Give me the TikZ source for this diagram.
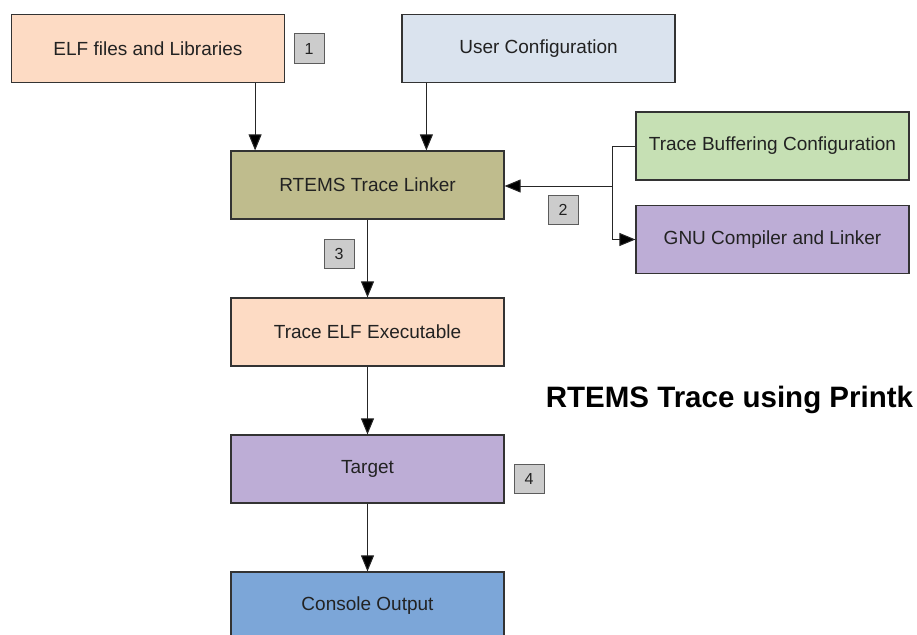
\documentclass[tikz,border=0pt]{standalone}
\usepackage{fontspec}
\setmainfont{Liberation Sans}
\usetikzlibrary{arrows.meta,calc}
\definecolor{peach}{HTML}{FDDBC4}
\definecolor{paleblue}{HTML}{DAE3EE}
\definecolor{olive}{HTML}{BFBC8D}
\definecolor{palegreen}{HTML}{C6E0B4}
\definecolor{lilac}{HTML}{BDADD6}
\definecolor{midblue}{HTML}{7CA6D8}
\definecolor{badgegray}{HTML}{CCCCCC}
\definecolor{edge}{HTML}{333333}
\definecolor{txt}{HTML}{222222}
\begin{document}
\begin{tikzpicture}[x=1pt,y=-1pt,
  box/.style={draw=edge,line width=1.2pt,minimum width=273pt,minimum height=68pt,inner sep=0pt,
    font=\fontsize{19}{22}\selectfont,text=txt},
  badge/.style={draw=edge!80,line width=1pt,fill=badgegray,minimum width=30pt,minimum height=29pt,inner sep=0pt,
    font=\fontsize{16}{19}\selectfont,text=txt},
  arr/.style={draw=black!85,line width=1pt,-{Triangle[length=16pt,width=13pt,fill=black]}},
  ln/.style={draw=black!85,line width=1pt}]
\useasboundingbox (0,0) rectangle (917,634);
\node[box,fill=peach] (elf) at (148,48.5) {ELF files and Libraries};
\node[box,fill=paleblue] (uc) at (538.5,48.5) {User Configuration};
\node[box,fill=olive] (lnk) at (367.5,185) {RTEMS Trace Linker};
\node[box,fill=palegreen] (tb) at (772.5,146) {Trace Buffering Configuration};
\node[box,fill=lilac] (gnu) at (772.5,239.5) {GNU Compiler and Linker};
\node[box,fill=peach] (te) at (367.5,332) {Trace ELF Executable};
\node[box,fill=lilac] (tg) at (367.5,469) {Target};
\node[box,fill=midblue] (co) at (367.5,606) {Console Output};
\node[badge] (b1) at (309,48.5) {1};
\node[badge] (b2) at (563,210) {2};
\node[badge] (b3) at (339,254) {3};
\node[badge] (b4) at (529,479) {4};
\node[anchor=base,font=\bfseries\fontsize{29.5}{34}\selectfont,text=black] (title) at (729.5,407) {RTEMS Trace using Printk};
\coordinate (j) at (612,186);
\draw[arr] ([xshift=-30pt]elf.south east) -- ([xshift=-30pt]elf.south east |- lnk.north);
\draw[arr] ([xshift=25pt]uc.south west) -- ([xshift=25pt]uc.south west |- lnk.north);
\draw[ln] (tb.west) -| (j);
\draw[arr] (j) |- (gnu.west);
\draw[arr] (j) -- (j -| lnk.east);
\draw[arr] (lnk.south) -- (te.north);
\draw[arr] (te.south) -- (tg.north);
\draw[arr] (tg.south) -- (co.north);
\end{tikzpicture}
\end{document}
